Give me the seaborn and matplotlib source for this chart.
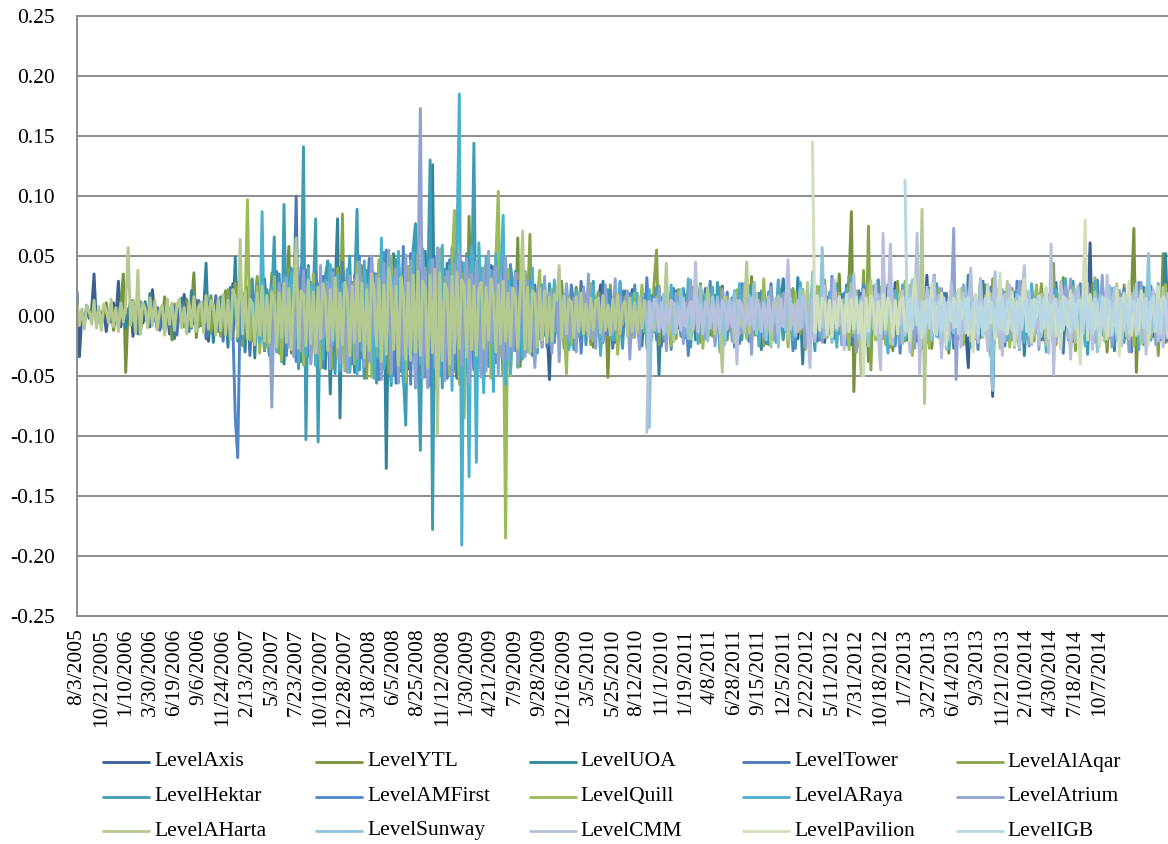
import numpy as np
import pandas as pd
import matplotlib
matplotlib.use("Agg")
import matplotlib.pyplot as plt
from matplotlib.lines import Line2D
import seaborn as sns

# Level returns of Malaysian REITs, weekly samples in per-mille units (value / 1000)
series_names = ["LevelAxis", "LevelYTL", "LevelUOA", "LevelTower", "LevelAlAqar",
                "LevelHektar", "LevelAMFirst", "LevelQuill", "LevelARaya", "LevelAtrium",
                "LevelAHarta", "LevelSunway", "LevelCMM", "LevelPavilion", "LevelIGB"]

series_colors = ["#3a5f93", "#76923c", "#31849b", "#4a77b4", "#86a44a",
                 "#3f9cb4", "#4f86c6", "#9bbb59", "#4bb1cb", "#8fa3d1",
                 "#b3c98f", "#8ec5da", "#b7c1de", "#d0dfbb", "#b6d7e3"]

# first sample index of each series (later listings start later)
series_start = [0, 9, 19, 29, 49, 59, 59, 69, 69, 79, 0, 234, 234, 302, 340]

axis_vals = [
    20, -34, 3, -6, 9, -2, 5, 35, -8, 4, -1, 7, -13, 2, -5, 11, -3, 29, -9, 6,
    -4, 1, 8, -17, 3, -2, 12, -6, 0, 5, -9, 22, -4, 7, -11, 2, -1, 6, -15, 4,
    9, -3, 2, -7, 18, -5, 1, -10, 4, 13, -2, -6, 8, 3, -21, 5, -4, 10, -1, -8,
    14, -5, 2, -11, 27, -3, 8, -16, 6, -1, 19, -9, 4, -24, 11, -7, 2, 31, -12, 5,
    -3, 9, -18, 7, 1, -14, 36, -8, 4, -26, 13, -2, 6, -10, 21, -5, -15, 3, 28, -9,
    11, -4, -19, 8, 2, 33, -13, 5, -7, 16, -30, 9, -2, 12, -6, 3, 24, -17, 7, -11,
    18, -8, 4, -28, 41, -14, 9, -5, 22, -36, 12, 3, -19, 27, -10, 6, -44, 17, -3, 31,
    -12, 25, -7, -38, 14, 5, 47, -21, 10, -16, 2, 35, -29, 8, -4, 20, -50, 13, 26, -9,
    6, -23, 39, -11, 15, -32, 4, 24, -7, -18, 42, -6, 11, -27, 19, 3, -14, 30, -20, 8,
    -10, 16, -5, 23, -17, 7, -2, 12, -26, 9, 4, -13, 19, -6, -53, 14, -3, 8, -11, 21,
    -7, 3, -15, 10, 2, -4, 18, -9, 6, -1, 13, -21, 5, -3, 9, 26, -12, 4, -6, 11,
    -2, 7, -17, 3, 14, -8, 1, -5, 22, -10, 4, 8, -3, -14, 6, 2, -9, 17, -4, 5,
    -11, 3, 9, -1, -6, 19, -13, 4, 7, -2, -18, 10, 2, -5, 12, -8, 25, -3, -7, 6,
    1, -12, 8, 4, -20, 11, -3, 6, -9, 15, 2, -27, 7, -1, 13, -6, 3, 21, -10, 5,
    -4, 9, -14, 2, 7, -1, -16, 12, 5, -8, 30, -11, 3, -6, 9, -2, -19, 4, 14, -7,
    8, -3, 1, -12, 17, -5, 10, -22, 6, 2, -9, 13, -4, 7, -15, 3, 24, -8, -2, 11,
    -6, 4, 19, -13, 1, 8, -26, 9, -3, 5, 12, -7, -17, 6, 2, -10, 28, -4, 7, -12,
    3, 15, -8, 5, -1, -21, 10, 2, -6, 34, -9, 4, -13, 7, 1, -18, 11, -5, 8, -3,
    16, -10, 6, -2, 9, -14, -43, 20, 3, -7, 12, -4, 1, -11, 23, -6, -67, 18, 5, -9,
    2, 13, -16, 7, -3, 10, -1, -25, 8, 4, -12, 6, 19, -8, 3, -5, 11, -20, 9, 1,
    -7, 14, -3, 5, -18, 10, 2, -9, 27, -6, 4, -13, 8, -2, 16, -4, 61, -22, 7, -11,
    3, 9, -15, 6, -1, 12, -8, 4, 21, -14, 2, -5, 10, -19, 7, 3, -6, 14, -10, 5,
    -2, 11, -17, 8, 4, -7, 13, -3, 6,
]

ytl_vals = [
    5, -8, 2, 11, -3, 7, -12, 1, -4, 9, 35, -47, 6, -2, 13, -9, 3, -15, 4, 8,
    -6, 19, -1, 5, -11, 2, -4, 16, -7, 3, -20, 10, -2, 6, 1, -9, 14, -5, 7, 36,
    -18, 4, -3, 10, -8, 2, 17, -6, 5, -13, 9, -4, 21, -10, 3, -17, 8, 26, -12, 6,
    -3, 14, -28, 11, -5, 30, -15, 4, -9, 22, -1, 34, -19, 7, -24, 12, -6, 18, 58, -31,
    9, -14, 3, 25, -11, 16, -33, 6, 21, -8, 2, -27, 13, -4, 38, -16, 10, -22, 5, 29,
    -12, 17, -36, 8, -5, 24, 3, -19, 42, -10, 15, -29, 7, -2, 31, -40, 13, -17, 26, -6,
    35, -11, 19, -46, 8, -24, 41, 4, -33, 16, -7, 47, -20, 12, -38, 6, -15, 29, -9, 22,
    -44, 10, 36, -18, 5, -30, 24, -3, 45, -27, 14, -39, 83, -21, 9, -12, 33, -48, 17, -6,
    27, -15, 4, -35, 40, -8, 19, -25, 11, -2, 30, -13, 65, -42, 7, -23, 15, -9, 28, -17,
    12, -6, 20, -3, 9, -14, 2, -22, 16, -5, 29, -8, 4, -18, 10, -1, 24, -11, 6, -13,
    17, -4, 8, -26, 3, 11, -7, 1, 14, -51, 6, -9, 19, -2, 5, -15, 21, -6, 3, -10,
    8, -3, 13, -1, 7, -19, 2, 10, -5, -12, 25, -4, 6, -8, 1, 15, -21, 4, -2, 9,
    -7, 18, -11, 3, -4, 12, 2, 27, -9, 5, 1, -16, 8, -3, 14, -6, 4, -22, 10, -1,
    6, -13, 20, -5, 2, -8, 11, -2, 33, -10, 4, -18, 7, -4, 9, 1, 16, -12, 3, -7,
    22, -6, 5, -15, 8, 1, -9, 13, -3, 6, -24, 4, 2, -11, 18, -5, 10, -2, 28, -14,
    3, -19, 12, -4, 35, -8, 6, -16, 30, 87, -63, 9, -25, 14, -7, 21, -38, 11, -3, 26,
    -10, 5, -17, 23, -4, 13, -29, 7, -1, 18, -8, 3, -20, 11, -6, 2, -14, 24, -5, 9,
    -2, 15, -27, 6, 10, -12, 19, -4, 8, -31, 3, -6, 14, -9, 5, 1, 22, -13, 7, -3,
    12, -18, 4, -7, 26, -2, 9, -11, 1, 16, -23, 6, -4, 20, -8, 3, -15, 10, -5, 29,
    -9, 2, -14, 13, -3, 24, -10, 5, -19, 8, -1, 11, -26, 17, -6, 4, 32, -12, 7, -4,
    18, -13, 3, -21, 9, -2, 14, -7, 27, -16, 5, -9, 1, 12, -30, 8, -4, 19, -11, 6,
    -15, 4, 10, -3, 20, 73, -47, 7, -18, 11, -5, 23, -9, 3, -14, 16, -8, 52, -22, 6,
]

uoa_vals = [
    7, -10, 2, 13, -4, 9, -15, 3, -1, 12, -8, 18, -5, 4, -11, 6, 1, -14, 10, -3,
    5, -19, 8, -2, 15, -7, 3, -13, 21, -6, 2, -9, 11, 4, 44, -17, 6, -22, 9, -4,
    16, -12, 3, -26, 14, -5, 49, -21, 7, 19, -30, 10, -8, 24, -35, 12, 4, -18, 28, -9,
    -32, 15, -6, 37, -14, 26, -40, 9, 3, -23, 33, -11, 18, -38, 20, -4, 42, -27, 8, -16,
    24, -7, 31, -44, 13, -65, 6, 22, 81, -85, 30, -15, 39, -10, 17, -47, 25, 2, -31, 36,
    -13, 45, -28, 9, -50, 34, -6, 41, -127, 27, -39, 52, -18, 23, -46, 11, -55, 38, 5, -33,
    48, -21, 14, -43, 54, -9, 30, 126, -60, 35, -49, 19, -26, 44, -37, 7, 21, -52, 40, -15,
    29, -47, 16, -8, 51, -34, 12, -45, 39, -20, 26, -41, 4, 47, -30, 18, -49, 10, -36, 33,
    -24, 37, -12, 9, -35, 25, -6, 31, -28, 13, -19, 22, 5, -16, 11, -9, 3, -21, 15, -4,
    8, -13, 2, -27, 17, -5, 12, -10, 1, 24, -15, 6, -3, 19, -8, 4, -18, 29, -6, 10,
    -2, 14, -22, 7, 3, -11, 20, -4, 9, -16, 5, -1, 13, -25, 8, 2, -7, 17, -3, 11,
    -49, 15, -6, 4, -13, 9, -2, 21, -10, 5, -17, 3, 8, -5, 12, -20, 16, -1, 6, -9,
    19, -4, 10, -2, 3, -14, 25, -7, 11, -12, 1, -3, 15, -23, 6, 2, -8, 18, -5, 4,
    -11, 7, -28, 14, -2, 20, -9, 3, -16, 9, -4, 31, -13, 5, -1, 12, -18, 32, 6, -40,
    13, -5, 2, -15, 9, -21, 24, -3, 11, -8, 1, 7, -19, 5, -2, 14, -10, 26, -6, 3,
    10, -24, 17, -4, 2, -12, 8, -1, 15, -7, 30, -3, 4, -16, 11, -2, 22, -9, 6, -14,
    1, 18, -20, 7, -3, 13, -11, 2, -27, 9, -5, 23, -8, 4, -15, 6, -2, 19, -17, 10,
    -6, 3, -22, 16, -1, 8, -9, 34, -13, 5, -2, 11, -18, 4, 9, -26, 14, -4, 7, -10,
    21, -12, 6, -3, 12, -19, 2, 9, -7, 15, -33, 5, -1, 17, -14, 8, -4, 22, -9, 3,
    -16, 11, -5, 28, -8, 2, -20, 10, 13, -23, 4, -2, 16, -12, 7, -6, 25, -15, 1, -4,
    18, -10, 5, -17, 9, -3, 20, -29, 12, -6, 2, 14, -11, 4, -21, 13, -7, 3, -13, 24,
    -5, 8, -18, 10, -14, 16, -6, 9, 52, -12,
]

tower_vals = [
    4, -7, 10, -2, 6, -12, 1, -5, 14, -9, 3, 8, -16, 5, -3, 11, -6, 2, -10, 7,
    -1, 13, -8, 4, -19, 9, 2, -4, 17, -11, 6, -21, 15, -7, 24, -13, 3, 28, -18, 10,
    -5, 20, -33, 12, -2, 26, -15, 8, -29, 16, 4, -22, 35, -10, 19, -37, 23, -6, 30, -14,
    9, 100, -32, 21, -12, 38, 5, -25, 14, -41, 27, -8, 33, -19, 11, 2, -36, 24, -16, 40,
    -9, 29, -45, 13, -24, 18, 43, -31, 7, -50, 22, -14, 46, -27, 35, -53, 16, 5, -39, 48,
    -20, 31, -56, 10, -34, 44, 19, -42, 52, -11, 26, -47, 8, 37, -29, 15, -23, 49, -38, 4,
    34, -18, 12, -51, 25, -7, 45, 21, -40, 30, -13, 50, -26, 6, -44, 17, -31, 39, 14, -22,
    28, -9, 41, -35, 3, -17, 36, -24, 11, -43, 20, 32, -28, 15, -6, 37, -19, 9, -33, 26,
    -14, 22, -5, 13, -26, 9, -3, 18, -11, 24, -2, 7, -17, 4, 12, -20, 6, -8, 29, -1,
    10, -15, 3, -23, 8, -4, 19, -12, 2, -6, 16, -27, 5, 11, -9, 21, -2, 1, -14, 7,
    -4, 12, -20, 3, -1, 17, -9, 5, -13, 8, 2, -25, 11, -6, 4, -10, 14, -3, 22, -7,
    6, -11, 2, -16, 9, 1, -18, 4, -5, 23, -8, 3, -12, 15, -2, 7, -28, 10, -4, 13,
    -3, 8, -14, 5, 19, -10, 2, -21, 12, -6, 4, -1, 16, -9, 3, -13, 27, -5, 7, -17,
    9, -2, 14, -22, 6, -8, 1, 20, -12, 4, -15, 11, -3, 25, -7, 2, -19, 8, -1, 16,
    -11, 3, -6, 12, -4, 18, -9, 7, 1, -24, 10, -5, 21, -2, 6, -14, 4, -8, 13, -3,
    15, -20, 5, -2, 26, -11, 3, -16, 9, -6, 18, 2, -13, 7, -23, 4, -1, 11, -5, 14,
    -8, 22, -12, 3, -17, 1, 10, -4, 19, -15, 6, -27, 13, -2, 8, -9, 16, -6, 3, 5,
    -19, 12, -3, 29, -10, 4, -21, 7, -1, 14, -6, 17, -25, 9, 2, -13, 20, -4, 8, -11,
    5, -2, 18, -16, 3, -8, 11, -20, 1, 15, -5, 9, -12, 24, -4, 6, -31, 13, -2, 10,
    -7, 19, -14, 2, 8, -22, 6, -1, 17, -10, 4, -9, 28, -6, 11, -18, 3, 14, -12, 5,
    -3, 21, -15, 7, -13, 2, 9, -5, 23, -16, 4, -8, 12, -2, 16, 6, -20, 10, -7, 13,
]

alaqar_vals = [
    6, -9, 2, 11, -4, 8, -13, 3, -1, 12, -17, 9, -5, 22, -11, 4, 27, -19, 7, -25,
    16, -3, 30, -21, 8, 33, -14, 5, -28, 19, -7, 36, -10, 24, -31, 12, 2, -26, 39, -16,
    9, -35, 21, -4, 42, -23, 14, -38, 3, 29, -41, 11, -18, 34, -6, 25, -44, 7, 40, -20,
    85, -33, 15, -46, 28, -9, 49, -27, 6, 37, -52, 19, -40, 31, -12, 44, -30, 3, 53, -48,
    22, -36, 47, -15, 33, -55, 10, 41, -25, 50, -39, 16, -45, 29, -7, 38, -43, 24, 2, -50,
    46, -21, 35, -47, 13, -32, 51, -18, 27, -42, 20, 8, -37, 43, -26, 14, -34, 40, -11, 30,
    -28, 17, -8, 32, -19, 23, -35, 5, 26, -30, 11, -22, 36, -4, 21, -16, 9, 68, -29, 13,
    -12, 18, -6, 4, -21, 15, -2, 24, -14, 3, 10, -27, 8, -5, 19, -1, 13, -17, 6, 22,
    -9, 2, -24, 14, -3, 20, -13, 7, 1, -18, 26, -6, 11, -29, 9, -2, 16, -10, 4, -15,
    21, -5, 12, -3, 8, -23, 17, -11, 28, 55, -24, 10, -4, 15, -12, 2, 7, -19, 13, -6,
    3, -14, 20, -8, 11, -2, 6, -22, 9, -4, 16, 1, -17, 12, -7, 24, -10, 5, -20, 2,
    14, -6, 19, -13, 4, -9, 26, -3, 1, -16, 10, -5, 21, -25, 7, -1, 13, -11, 8, -3,
    17, -20, 5, 9, -7, 23, -2, 12, -15, 6, -28, 18, -4, 3, -12, 15, -9, 11, 30, -18,
    -5, 21, -10, 27, -14, 8, -22, 3, 33, -16, 12, -30, 6, -11, 38, -24, 75, -45, 19, 4,
    -13, 24, -19, 2, 9, -26, 16, -4, 29, -8, 5, -21, 1, -10, 18, -14, 11, -32, 3, 7,
    -17, 6, -2, 20, -12, 14, -27, 8, 4, -9, 22, -5, 13, -19, 3, -1, 16, -11, 9, -23,
    12, -4, 25, -15, 2, 10, -13, 31, -7, 5, -18, 14, -2, 19, -6, 23, -26, 4, 8, -10,
    -3, 17, -9, 2, -21, 13, -5, 27, -1, 8, -14, 6, 44, -24, 10, -12, 20, -4, 15, -8,
    11, -29, 3, -6, 18, -16, 7, 1, -20, 22, -9, 5, -2, 14, -25, 12, -7, 4, -15, 19,
    -10, 26, -18, 6, 13, -3, 21, -12, 2, -24, 16, -6, 9, -4, 11, -33, 17, 3, -14, 10,
]

hektar_vals = [
    3, -6, 9, -2, 12, -5, 16, -10, 4, -19, 8, 24, -14, 31, -7, 18, -27, 35, -3, 21,
    -33, 14, 66, -22, 6, -38, 93, -17, 28, 40, -12, 25, -44, 10, 141, -103, 37, -20, 15, 81,
    -105, 29, -8, 34, 46, -26, 19, -48, 33, -5, 42, -39, 12, 50, -31, 23, 89, -45, 16, -52,
    38, -15, 27, 9, -56, 44, -21, 53, -40, 17, -58, 32, 47, -36, 6, -49, -91, 41, -24, 55,
    77, -30, -112, 36, -51, 20, 130, -178, 48, -43, 26, -60, 39, 11, -34, 57, -46, 22, -54, 45,
    -18, 52, -37, 13, 144, -60, 31, -47, 40, 4, -42, 35, -25, 49, -33, 16, -50, 28, -14, 43,
    23, -29, 10, -35, 21, 8, -26, 30, -12, 18, -31, 14, -9, 24, -16, 27, 5, -22, 11, -19,
    17, -7, 25, -13, 3, -28, 12, -2, -15, 20, -24, 9, -4, 29, -10, 6, -18, 14, -1, 22,
    -11, 4, -20, 16, 2, -27, 10, -6, 19, -14, 26, -3, 7, -12, 18, -8, 13, -5, 2, 24,
    -9, 15, -21, 3, -13, 20, -4, 11, 1, -17, 23, -7, 9, -26, 14, -2, 6, -15, 8, -10,
    19, -3, 12, -22, 28, -11, 2, 16, -18, 7, -5, 21, -14, 1, -20, 10, -8, 25, -2, 5,
    -16, 9, 20, -6, 3, -24, 13, -12, 8, -1, 17, -19, 4, -9, 15, 2, -27, 11, -7, 22,
    -4, 14, -17, 6, -29, 18, 1, -10, 23, -5, 9, -13, 2, 26, -15, 7, -21, 12, -3, 10,
    -2, 19, -8, 5, -23, 14, -6, 16, 3, -12, 30, -9, 4, -18, 11, -7, 13, -25, 1, 15,
    -14, 8, -3, 21, -10, 2, 12, -22, 7, -5, 17, -11, 9, -1, 27, -16, 3, 6, -13, 4,
    -6, 24, -19, 11, -2, 15, -8, 5, -26, 13, 1, -9, 31, -12, 7, -4, 18, -21, 10, -1,
    9, -7, 20, -14, 3, 6, -17, 2, -28, 16, -5, 10, -11, 22, -3, 12, -20, 8, 1, -24,
    14, -4, 17, -9, 5, -23, 2, -1, 13, -15, 29, -6, 7, -18, 4, 11, -32, 15, -8, 19,
    -10, 3, -16, 12, -2, 25, -13, 6, 1, -7, 18, -22, 9, -4, 14, -11, 5, 28, -17, 8,
    -3, 11, -20, 16, -6, 4, -19, 13, 21, -9,
]

amfirst_vals = [
    2, -4, 5, -1, 7, -9, -85, -118, 10, -3, 15, -12, 6, 21, -8, 26, -15, 4, -22, 13,
    -5, 30, -18, 9, 35, -27, 3, -33, 19, -10, 24, -38, 7, 41, -16, 12, -30, 28, -2, 37,
    -24, 14, -43, 32, -11, 6, 39, -29, 20, -47, 45, -8, 27, 10, -40, 34, -19, 50, -35, 15,
    -26, 48, -12, 36, 22, -53, 29, -38, 55, -16, 42, -49, 9, 31, -44, 58, -21, 37, -57, 18,
    40, -46, 25, 52, -33, 13, -58, 44, -27, 51, -41, 19, 35, -52, 47, -14, 56, -36, 28, -48,
    33, -20, 49, 7, -45, 38, -30, 23, -54, 43, -15, 30, 11, -39, 24, -32, 46, -10, 34, -25,
    16, -21, 29, -6, 12, 25, -18, 3, -27, 14, -9, 22, 1, -13, 8, -24, 17, -4, 20, -11,
    5, -19, 13, -2, 26, 9, -14, 18, -31, 4, -7, 23, -10, 2, 15, -3, 11, -22, 6, -16,
    21, -8, 12, -1, 28, -17, 3, 10, -13, 19, -5, 14, -25, 7, -9, 32, -4, 16, 2, -20,
    9, -2, 18, -14, 4, -28, 23, -6, 11, 1, -19, 8, -33, 15, -3, 24, -11, 5, -17, 13,
    -1, 29, -9, 17, -5, 12, 3, -15, 20, -7, 2, -26, 14, -4, 27, -12, 6, -21, 10, 1,
    -13, 19, -3, 9, -23, 16, -2, 7, -10, 30, 4, -6, 21, -16, 3, -29, 12, -8, 18, -1,
    11, -18, 5, 15, -12, 2, -20, 8, -4, 13, -9, 33, -5, 6, -14, 10, 19, -24, 1, -7,
    16, -11, 8, -3, 26, -15, 2, 22, -6, 10, -17, 4, -1, 14, -27, 7, 18, -9, 3, -31,
    12, -4, 20, -16, 1, 9, -13, 25, -5, 6, -22, 11, -2, 34, -10, 3, -7, 15, -19, 4,
    8, -23, 13, 2, -9, 21, -4, 11, -18, 5, 1, -28, 17, -12, 7, -3, 24, -15, 9, -6,
    14, -11, 3, -20, 10, 6, -17, 29, -2, 12, -8, 4, -25, 16, -1, 19, -14, 5, 9, -13,
    2, -7, 22, -9, 13, -26, 1, 18, -4, 15, -21, 6, -10, 27, 8, -5, 17, -2, 11, -19,
    30, -6, 4, -15, 12, -3, 20, -24, 9, 1, -11, 23, -13, 5, -30, 14, -4, 16, 7, -12,
    3, -18, 25, -8, 10, -2, 14, -16, 6, -21,
]

quill_vals = [
    8, 97, -20, 11, -6, 25, -31, 4, 17, -26, 9, -3, 33, -15, 22, -37, 6, 29, -12, 2,
    -18, 39, -24, 13, -41, 5, 27, -9, 35, -30, 16, -44, 20, 3, -28, 42, -11, 31, -35, 10,
    24, -46, 38, -7, 14, -40, 45, -19, 2, 36, -23, 12, -51, 26, -33, 47, 8, -42, 30, -14,
    50, -27, 6, -48, 34, 19, -55, 41, -9, 28, -45, 52, -17, 37, 4, -53, 44, -31, 15, -39,
    56, -22, 32, 11, -49, 43, 88, 20, -57, 35, -85, 46, -13, 54, 25, -47, 9, -38, 40, -29,
    18, -52, 27, 48, 104, -34, 21, -185, 39, -50, 12, 31, -43, 24, -16, 36, -30, 7, 28, -21,
    14, 38, -26, 9, -17, 4, 22, -12, 1, -19, 11, -6, -48, 16, -24, 8, -3, 20, 13, -15,
    6, -10, 27, -21, 2, 12, -29, 17, -4, 9, -14, 3, 23, -32, 15, -7, 10, -2, 5, -18,
    19, -8, 1, 26, -13, 7, -22, 11, -3, 16, -9, 4, -17, 2, 13, -25, 8, -5, 21, -11,
    3, -16, 10, -1, 24, 6, -20, 14, -27, 2, -7, 18, -12, 5, 9, -30, 4, -3, 16, -9,
    12, -4, 22, -15, 1, 8, -19, 6, -11, 28, -2, 13, -6, 31, -8, 3, -21, 10, 5, -14,
    17, -5, 9, -26, 2, -12, 20, -1, -7, 11, -23, 15, -3, 7, -10, 25, -16, 4, 6, -18,
    13, -22, 3, -6, 19, -9, 14, 2, -28, 10, -4, 21, -13, 5, -17, 8, 27, -11, 1, -20,
    15, -3, 7, -24, 12, -1, 4, 18, -15, 9, -2, 29, -10, 6, -33, 16, 2, -8, 20, -5,
    11, -27, 3, 14, -9, 23, -4, 1, -19, 7, -12, 18, -2, 13, 5, -24, 10, -6, 16, -13,
    4, -8, 30, -11, 17, 2, -21, 9, -5, 22, -3, 6, -15, 12, -26, 1, 11, -18, 7, 19,
    -2, 16, -10, 4, -14, 26, -7, 3, 13, -20, 9, -1, 5, -23, 18, -12, 21, 8, -6, -29,
    24, -9, 2, 15, -5, 12, -17, 3, -13, 32, 7, -22, 10, -3, 14, -8, 1, 20, -16, 6,
    -19, 11, -4, 17, 9, -25, 2, -7, 14, -1, 23, 5, -18, 10, -6, 16, -11, 3, 26, -14,
]

araya_vals = [
    5, -9, 14, -3, 8, 19, -22, 87, -25, 6, -12, 24, 2, -30, 17, -8, 33, -19, 11, 36,
    -28, 7, -38, 21, 13, -33, 40, -6, 26, -41, 15, 3, -36, 30, -14, 43, -24, 9, 34, -45,
    27, -11, 39, -47, 18, 6, -50, 32, -29, 46, -16, 22, 48, -52, 12, -35, 65, -44, 25, 51,
    -55, 33, -19, 54, 10, -58, 41, -31, 20, 53, -60, 28, -40, 56, 14, -57, 47, -23, 37, 8,
    -49, 59, -34, 21, 42, -62, 30, 55, 185, -191, 44, 17, -134, 58, 26, -122, 61, 13, -64, 50,
    24, 38, -63, 52, 15, 36, 84, -57, 29, -48, 18, 33, -42, 9, -36, 22, 27, -31, 40, -38,
    11, -19, 26, -4, 15, 7, -22, 30, -13, 5, -1, 18, 3, -28, 12, -9, 21, -16, 4, -6,
    17, -11, 2, 25, -18, 8, -33, 13, -2, 10, 6, -20, 14, -7, 29, -4, 9, 1, -24, 16,
    -3, 19, -12, 5, 11, -27, 22, -1, 8, -14, 20, 3, -18, 12, -6, 26, -21, 4, 15, -9,
    2, -17, 31, -10, 7, 13, -23, 9, -3, 18, -15, 1, 24, -5, 11, -28, 16, -2, 6, 14,
    -12, 4, -19, 27, -8, 3, 21, -16, 10, -1, 15, -25, 6, 12, -4, 19, -11, 2, -22, 30,
    -5, 13, -7, 9, 22, -20, 5, -13, 28, -2, 11, 4, -30, 17, -9, 14, -18, 7, 1, -15,
    20, -3, 12, -26, 9, 2, -10, 23, -6, 32, -17, 5, 13, -21, 15, -1, 4, -14, 25, -8,
    7, 18, -15, 3, -31, 14, -4, 21, 1, -11, 26, -19, 8, -2, 29, -13, 2, 16, -24, 10,
    -6, 22, -1, 12, 6, -18, 17, -9, 3, -27, 11, 33, -14, 5, -3, 20, -10, 1, 15, -20,
    9, -4, 24, -13, 2, 16, -23, 7, -1, 14, 28, -12, 4, -19, 10, -6, 8, 21, -17, 3,
    -22, 11, -2, 27, 1, -14, 18, -8, 6, -30, 13, 2, -16, 22, -5, 9, -3, 31, -20, 7,
    1, -10, 19, -6, 12, -25, 4, 15, -3, 29, -12, 2, 8, -21, 17, -4, 23, -15, 5, 3,
    -18, 14, -7, 20, -1, 9, 25, -28, 6, -5, 16, -19, 11, 2, -13, 27, -4, 13, -10, 8,
]

atrium_vals = [
    9, -76, 14, -21, 27, 4, -15, 32, -26, 11, -34, 20, 6, -29, 38, -13, 24, -40, 17, 2,
    -31, 42, -18, 10, 28, -44, 36, -9, 23, -39, 15, 3, -47, 33, -20, 30, -35, 45, 7, -42,
    26, -38, 50, -16, 34, 12, -53, 44, -27, 55, -48, 21, 39, -56, 18, -33, 51, -24, 46, 8,
    -58, 31, 173, -52, 40, -60, 25, 47, -43, 57, -30, 13, -54, 37, 22, -49, 43, -19, 52, -41,
    16, 48, -57, 35, -28, 45, 5, -51, 39, -46, 54, -22, 29, 41, -50, 33, -36, 49, -37, 24,
    -29, 36, -40, 14, 28, -34, 30, -17, 9, -43, 22, 11, -26, 33, -13, 19, -31, 7, 24, -38,
    12, -16, 27, -20, 4, 15, -30, 18, -8, 23, -12, 35, -19, 6, -27, 13, 2, -22, 26, -9,
    5, -14, 31, -11, 17, -3, 10, 21, -36, 8, -18, 3, -28, 16, -6, 12, 1, -20, 14, -10,
    24, -5, 9, -29, 13, 2, -17, 19, -7, 4, -23, 11, -1, 30, -12, 7, -15, 6, 3, -19,
    16, -8, 11, -25, 2, -13, 22, -4, 14, 6, -21, 17, -9, 5, -14, 27, -2, 10, -32, 18,
    -6, 12, 3, -18, 8, -11, 24, -20, 1, 15, -7, 19, -3, 34, -12, 4, -16, 9, -5, 13,
    -26, 17, 5, -10, 20, -2, 8, -22, 1, 11, -15, 31, -9, 3, 14, -24, 7, -13, 18, -1,
    10, -30, 4, 16, -8, 2, -19, 25, -5, 12, -3, 9, 28, -17, 6, -11, 21, -4, 1, -23,
    13, -7, 19, -2, 3, -27, 15, -10, 36, -6, 11, 4, -20, 8, -14, 2, 23, -12, 5, -18,
    9, 73, -53, 12, -16, 26, -4, 14, 1, -25, 18, -9, 20, -3, 10, 6, -33, 11, -13, 7,
    -2, 22, -15, 5, 17, -20, 9, -1, 29, -11, 3, 13, -24, 6, -8, 15, -28, 12, 2, -9,
    18, -14, 4, -21, 10, 3, -12, 25, -6, 31, -19, 7, 11, -16, 14, -2, 27, -10, 1, -22,
    15, -5, 34, -13, 8, 16, -26, 2, -9, 21, -17, 12, 4, -30, 19, -7, 13, -1, 28, -15,
    6, -11, 20, 9, -24, 14, -3, 23, -18, 7,
]

aharta_vals = [
    12, -8, 6, -11, 9, 4, -7, 13, -10, 8, -12, 10, 5, -6, 14, -9, 7, -13, 11, -5,
    10, 57, -8, 12, -14, 38, -15, 11, 6, -10, 15, -8, 13, -11, 5, 9, -16, 14, -7, 11,
    -12, 9, 14, -10, 7, -15, 12, -9, 16, -13, 8, 11, -14, 17, -11, 13, 9, -16, 15, -12,
    18, -16, 13, -20, 22, 15, -17, 64, -15, 21, -19, 14, 10, -24, 19, -16, 25, -21, 17, -22,
    20, 12, -26, 19, -18, 27, -22, 23, -28, 16, 65, -27, 21, 17, -25, 30, -23, 20, -31, 24,
    -19, 27, 15, -29, 22, -20, 32, -26, 19, -24, 28, 17, -33, 25, -22, 34, -21, 27, -35, 22,
    -29, 35, 20, -25, 31, -38, 26, -32, 40, 23, -28, 25, -41, 32, 18, -36, 28, -37, 34, -30,
    37, -33, 29, 22, -43, 34, -30, 39, -99, 36, -37, 27, 21, -40, 33, -31, 36, -27, 30, 24,
    -34, 30, -28, 25, -33, 22, 28, -27, 24, -20, 31, 17, -30, 26, -23, 29, -21, 19, -25, 23,
    16, -27, 20, 71, -28, 24, -31, 21, 18, -26, 23, -20, 21, -22, 16, -21, 18, 13, 42, -19,
    17, -15, 14, 11, -18, 16, -13, 19, -15, 10, -17, 15, -12, 13, 15, -14, 17, -12, 9, -16,
    14, -11, 18, -15, 8, 12, -17, 15, -13, 11, -14, 16, -10, 13, -9, 4, 7, -12, 2, -5,
    10, -3, 44, -16, 6, -21, 9, 1, -8, 14, -4, 3, -19, 11, 5, -13, 18, -6, 2, 24,
    -7, 12, -15, 3, -10, -47, 16, 8, -2, 5, -22, 13, 1, -9, 4, 45, -14, 6, -3, 19,
    -11, 2, 9, -16, 7, -26, 12, -4, 17, -8, 3, 1, -20, 15, -6, 10, -13, 5, 21, -2,
    28, -9, 4, -18, 11, 14, -5, 2, -15, 8, -1, 19, -12, 6, 3, -24, 16, -7, 9, -14,
    12, -3, -50, 18, 6, -8, 30, -11, 2, -17, 13, 7, -4, 9, -23, 15, 1, -10, 20, -6,
    5, -13, 26, -2, 11, 4, -16, 89, -73, 14, -5, 22, 8, -9, 17, -25, 3, 10, -12, 6,
    -8, 16, -2, 23, -14, 7, 12, -21, 4, -6, 13, 9, -18, 1, -3, 19, -11, 2, 8, -27,
    15, -4, 29, -10, 3, 14, -19, 6, -7, 11, 21, -13, 1, -16, 9, -2, 18, 5, -24, 12,
    -3, 17, -15, 4, 25, -9, 10, -18, 2, 7, -22, 14, -5, 1, 31, -16, 6, -8, 20, -4,
    8, 12, -20, 16, -7, 3, -11, 27, -14, 9, 2, -17, 13, -10, 19, -1, 5, -23, 11, 15,
    -9, 4, -13, 18, 6, -12, 24, -15, 7,
]

sunway_vals = [
    3, -93, 10, -5, 14, 2, -9, 18, -13, 6, 1, -16, 11, -4, 22, -8, 5, -19, 9, -2,
    13, -7, 25, -12, 3, -21, 8, 1, -10, 16, -3, 6, -24, 12, -6, 2, 20, -14, 7, -1,
    -11, 4, 17, -8, 28, -15, 5, -3, 12, -20, 9, 2, -6, 15, -26, 10, 3, -12, 19, -4,
    7, -17, 1, 23, -9, 13, -2, -14, 37, -11, 6, -4, 57, -18, 8, 2, -22, 11, -5, 16,
    -1, 9, -13, 4, 27, -10, 3, -19, 14, -6, 1, -25, 8, 12, -3, 18, -9, 5, -15, 2,
    21, -7, 10, -2, 6, -23, 15, -11, 4, 30, -8, 1, -16, 9, -4, 13, 3, -20, 7, -12,
    17, -5, 2, -28, 11, 6, -14, 19, -3, 8, -10, 24, -6, 1, 15, -18, 4, -9, 12, -2,
    26, -13, -62, 35, -7, 10, 3, -21, 14, -4, 2, -11, 18, -16, 6, 29, -8, 1, -24, 9,
    -3, 12, -17, 5, 20, -6, 8, -27, 13, 2, -10, 16, 4, -14, 7, -1, 22, -19, 11, -5,
    1, 15, -12, 3, 9, -30, 18, -7, 4, -13, 25, -2, 6, -20, 10, -4, 14, 8, -16, 3,
    -9, 19, -5, 11, -22, 2, 52, -15, 7, -3, 13, -18, 4, 16, -8,
]

cmm_vals = [
    -97, 12, -10, 14, 8, -13, 11, -15, 9, -7, 13, 10, -14, 8, -12, 15, -9, 6, 12, -11,
    45, -13, 9, -15, 12, 7, -10, 16, -12, 10, -14, 13, 6, -11, 14, -9, 11, -40, 13, 8,
    -14, 10, -8, 15, -11, 13, 9, -13, 11, -10, 16, -12, 7, 12, -15, 14, -9, 12, 47, -11,
    9, -14, 13, -11, 16, 10, -12, -43, 14, -21, 6, 2, -9, 25, -4, 11, -17, 30, 5, -8,
    13, -28, 3, 19, -6, 35, -2, 9, -19, 22, 4, -13, 8, -1, 27, -15, -45, 69, -11, 7,
    60, -24, 10, 3, -7, 21, -16, 12, -30, 5, 14, 69, -48, 9, -18, 24, 2, -12, 33, -6,
    17, -35, 4, 11, -20, 28, -9, 1, 13, -26, 19, -14, 3, 40, -8, 6, -22, 31, -11, 2,
    -29, 15, 7, 37, -17, 5, -33, 18, -4, 26, 8, -13, 10, -27, 16, 42, -6, 20, -19, 12,
    3, -24, 14, -10, 23, -31, 60, -49, 9, -16, 29, 5, -7, 12, -36, 18, -9, 25, 4, -14,
    21, -8, 2, -28, 15, 11, -20, 7, -12, 34, -17, 6, 24, -10, 3, -25, 13, 1, -19, 16,
    -5, 27, -15, 9, 18, -32, 12, -3, 22, 6, -21, 14, -26, 8, 19,
]

pavilion_vals = [
    145, -14, 17, -12, 15, 11, -16, 13, -17, 12, -10, 16, 9, -15, 18, -13, 14, -11, 16, -14,
    12, -50, 15, -13, 17, 10, -16, 12, -14, 18, -11, 15, 8, -17, 13, -15, 11, 16, -12, 4,
    -21, 9, 33, -7, 2, -18, 12, -5, 3, 27, -14, 8, -2, 19, 6, -24, 11, -4, 15, -9,
    22, -3, 7, 14, -16, 1, -30, 18, -8, 10, 4, -12, 26, -6, 9, -19, 2, 36, -11, 5,
    -15, 3, 20, -25, 12, -4, 8, 31, -13, 6, -22, 14, -1, 17, 2, -10, 24, -18, 7, 11,
    -17, 5, -28, 16, 3, -9, 21, -2, 10, -14, -40, 13, 80, -20, 18, 4, -11, 9, -26, 7,
    15, -19, 6, 2, -8, 23, -33, 12, 19, -5, 29, -16, 3, 10, -12, 21, -7, 14, -24, 4,
    9, -13, 25, -6, 16, 11, -18,
]

igb_vals = [
    113, -13, 15, -11, 16, 9, -14, 12, -15, 13, -10, 14, 11, -16, 12, -13, 15, -12, 14, 8,
    -10, 13, -15, 11, 14, -14, 16, -12, 10, 13, -15, 11, -16, 15, -10, 12, 9, -13, 15, -11,
    16, -14, 12, 15, -12, 11, -15, 16, -11, 10, 14, -16, 13, -10, 12, 17, -13, 15, -9, 11,
    -15, 11, 14, -16, 12, -11, 15, 10, -14, 16, -11, 13, 12, -15, 16, -12, 10, -15, 14, 9,
    -13, 16, -10, 14, 12, -16, 11, -14, 15, 10, -12, 17, -14, 10, 13, -16, 14, 11, -10, 15,
    -14, 12, 16, -11, 14, -15, 10, 13, -12,
]

series_values = [axis_vals, ytl_vals, uoa_vals, tower_vals, alaqar_vals,
                 hektar_vals, amfirst_vals, quill_vals, araya_vals, atrium_vals,
                 aharta_vals, sunway_vals, cmm_vals, pavilion_vals, igb_vals]

# category labels, one every 10 samples
date_labels = ["8/3/2005", "10/21/2005", "1/10/2006", "3/30/2006", "6/19/2006",
               "9/6/2006", "11/24/2006", "2/13/2007", "5/3/2007", "7/23/2007",
               "10/10/2007", "12/28/2007", "3/18/2008", "6/5/2008", "8/25/2008",
               "11/12/2008", "1/30/2009", "4/21/2009", "7/9/2009", "9/28/2009",
               "12/16/2009", "3/5/2010", "5/25/2010", "8/12/2010", "11/1/2010",
               "1/19/2011", "4/8/2011", "6/28/2011", "9/15/2011", "12/5/2011",
               "2/22/2012", "5/11/2012", "7/31/2012", "10/18/2012", "1/7/2013",
               "3/27/2013", "6/14/2013", "9/3/2013", "11/21/2013", "2/10/2014",
               "4/30/2014", "7/18/2014", "10/7/2014"]
label_step = 10
n_samples = 449

y_ticks = [-0.25, -0.20, -0.15, -0.10, -0.05, 0.00, 0.05, 0.10, 0.15, 0.20, 0.25]
y_labels = ["-0.25", "-0.20", "-0.15", "-0.10", "-0.05", "0.00",
            "0.05", "0.10", "0.15", "0.20", "0.25"]

# long-format table
frames = []
for name, start, vals in zip(series_names, series_start, series_values):
    frames.append(pd.DataFrame({
        "idx": start + np.arange(len(vals)),
        "ret": np.asarray(vals, dtype=float) / 1000.0,
        "series": name,
    }))
df = pd.concat(frames, ignore_index=True)

sns.set_theme(style="white")
plt.rcParams["font.family"] = ["Liberation Serif", "DejaVu Serif"]

W, H = 1168, 844
fig = plt.figure(figsize=(W / 100, H / 100), dpi=100)
ax = fig.add_axes([77 / W, 1 - 616 / H, (W - 77) / W, 600 / H])

grid_col = "#8c8c8c"
ax.set_axisbelow(True)
for t in y_ticks:
    ax.axhline(t, color=grid_col, lw=1.4, zorder=0, clip_on=False)

sns.lineplot(data=df, x="idx", y="ret", hue="series", hue_order=series_names,
             palette=series_colors, linewidth=2.1, estimator=None, sort=False,
             legend=False, ax=ax)

ax.set_xlim(0, n_samples - 1)
ax.set_ylim(-0.25, 0.25)
ax.set_xlabel("")
ax.set_ylabel("")

ax.set_yticks(y_ticks)
ax.set_yticklabels(y_labels, fontsize=15.5)
ax.set_xticks(np.arange(len(date_labels)) * label_step)
ax.set_xticklabels(date_labels, rotation=90, fontsize=15.5)
ax.tick_params(axis="y", length=6, width=1.4, color=grid_col, pad=10, labelcolor="black")
ax.tick_params(axis="x", length=0, pad=9, labelcolor="black")

for side in ["top", "right"]:
    ax.spines[side].set_visible(False)
for side in ["left", "bottom"]:
    ax.spines[side].set_color(grid_col)
    ax.spines[side].set_linewidth(1.4)

# legend: 3 rows x 5 columns, row-major
key_x0, key_dx, key_len = 103, 213.4, 46
row_y0, row_dy = 762, 34.5
for i, (name, col) in enumerate(zip(series_names, series_colors)):
    r, c = divmod(i, 5)
    x0 = key_x0 + c * key_dx
    y = row_y0 + r * row_dy
    fig.add_artist(Line2D([x0 / W, (x0 + key_len) / W], [1 - y / H, 1 - y / H],
                          color=col, lw=2.0, transform=fig.transFigure))
    fig.text((x0 + key_len + 5) / W, 1 - y / H, name, fontsize=15.5,
             va="center", ha="left", color="black")

fig.savefig("out.png", dpi=100)
